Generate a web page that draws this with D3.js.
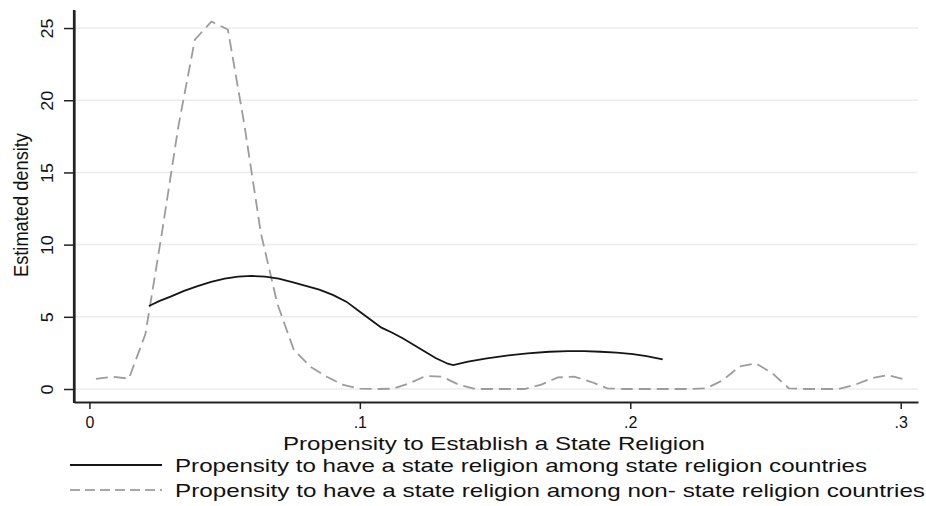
<!DOCTYPE html>
<html>
<head>
<meta charset="utf-8">
<script src="https://cdn.jsdelivr.net/npm/d3@7"></script>
<style>
  html, body { margin: 0; padding: 0; background: #fff; }
  svg { display: block; }
  text { font-family: "Liberation Sans", Arial, sans-serif; fill: #111; }
</style>
</head>
<body>
<svg id="chart" width="926" height="506"></svg>
<script>
// ---- data ----
const stateX = [0.022, 0.026, 0.030, 0.035, 0.040, 0.045, 0.050, 0.055, 0.060, 0.065, 0.070, 0.075, 0.080, 0.085, 0.090, 0.095, 0.100, 0.104, 0.108, 0.112, 0.116, 0.120, 0.124, 0.128, 0.1325, 0.1345, 0.140, 0.147, 0.155, 0.162, 0.170, 0.177, 0.183, 0.189, 0.195, 0.201, 0.206, 0.212];
const stateY = [5.75, 6.1, 6.4, 6.8, 7.13, 7.42, 7.64, 7.78, 7.83, 7.78, 7.65, 7.4, 7.15, 6.88, 6.52, 6.05, 5.35, 4.8, 4.25, 3.9, 3.5, 3.05, 2.6, 2.15, 1.75, 1.66, 1.9, 2.12, 2.33, 2.47, 2.58, 2.63, 2.62, 2.58, 2.52, 2.42, 2.27, 2.05];

const nonStateX = [0.0024, 0.0085, 0.0146, 0.0207, 0.0268, 0.0329, 0.0390, 0.0451, 0.0512, 0.0573, 0.0634, 0.0695, 0.0756, 0.0817, 0.0878, 0.0939, 0.1000, 0.1061, 0.1122, 0.1183, 0.1244, 0.1305, 0.1366, 0.1427, 0.1488, 0.1549, 0.1610, 0.1671, 0.1732, 0.1793, 0.1854, 0.1915, 0.1976, 0.2037, 0.2098, 0.2159, 0.2220, 0.2281, 0.2342, 0.2403, 0.2464, 0.2525, 0.2586, 0.2647, 0.2708, 0.2769, 0.2830, 0.2891, 0.2952, 0.3013];
const nonStateY = [0.7, 0.85, 0.72, 3.8, 10.8, 18.2, 24.2, 25.45, 24.9, 18.3, 10.8, 5.9, 2.7, 1.55, 0.85, 0.28, 0.02, 0.0, 0.02, 0.4, 0.9, 0.85, 0.3, 0.0, 0.0, 0.0, 0.0, 0.3, 0.8, 0.85, 0.5, 0.05, 0.0, 0.0, 0.0, 0.0, 0.0, 0.05, 0.6, 1.55, 1.78, 1.1, 0.05, 0.0, 0.0, 0.0, 0.28, 0.74, 0.97, 0.67];

const xTickValues = [0, 0.1, 0.2, 0.3];
const xTickLabels = ["0", ".1", ".2", ".3"];
const yTickValues = [0, 5, 10, 15, 20, 25];
const yTickLabels = ["0", "5", "10", "15", "20", "25"];

const xTitle = "Propensity to Establish a State Religion";
const yTitle = "Estimated density";
const legendLabels = [
  "Propensity to have a state religion among state religion countries",
  "Propensity to have a state religion among non- state religion countries"
];

// ---- layout ----
const svg = d3.select("#chart");
const plotLeft = 74, plotRight = 918, plotTop = 10, plotBottom = 402;

const x = d3.scaleLinear().domain([-0.0057, 0.3064]).range([plotLeft, plotRight]);
const y = d3.scaleLinear().domain([-0.9, 26.25]).range([plotBottom, plotTop]);

// gridlines
svg.append("g").selectAll("line").data(yTickValues).join("line")
  .attr("x1", plotLeft + 1).attr("x2", plotRight)
  .attr("y1", d => y(d)).attr("y2", d => y(d))
  .attr("stroke", "#ececec").attr("stroke-width", 1.5);

// curves
const line = d3.line().x(d => x(d[0])).y(d => y(d[1])).curve(d3.curveLinear);
const nonStateData = nonStateX.map((v, i) => [v, nonStateY[i]]);
const stateData = stateX.map((v, i) => [v, stateY[i]]);

svg.append("path").datum(nonStateData)
  .attr("d", line).attr("fill", "none")
  .attr("stroke", "#9c9c9c").attr("stroke-width", 1.8)
  .attr("stroke-dasharray", "12,6");

svg.append("path").datum(stateData)
  .attr("d", line).attr("fill", "none")
  .attr("stroke", "#151515").attr("stroke-width", 1.8);

// axes
const xAxis = d3.axisBottom(x).tickValues(xTickValues).tickFormat((d, i) => xTickLabels[i]).tickSize(7).tickSizeOuter(0);
const gx = svg.append("g").attr("transform", `translate(0,${plotBottom})`).call(xAxis);
gx.select(".domain").attr("stroke", "#222").attr("stroke-width", 2.2);
gx.selectAll(".tick line").attr("stroke", "#222").attr("stroke-width", 1.5);
gx.selectAll(".tick text").attr("font-size", 16).attr("dy", null).attr("y", 26)
  .attr("font-family", "'Liberation Sans', Arial, sans-serif").attr("fill", "#111");

const yAxis = d3.axisLeft(y).tickValues(yTickValues).tickFormat((d, i) => yTickLabels[i]).tickSize(10).tickSizeOuter(0);
const gy = svg.append("g").attr("transform", `translate(${plotLeft},0)`).call(yAxis);
gy.select(".domain").attr("stroke", "#222").attr("stroke-width", 2.2);
gy.selectAll(".tick line").attr("stroke", "#222").attr("stroke-width", 1.5);
gy.selectAll(".tick text")
  .attr("x", null).attr("dy", null)
  .attr("transform", "translate(-21,0) rotate(-90)")
  .attr("text-anchor", "middle")
  .attr("font-size", 17)
  .attr("font-family", "'Liberation Sans Narrow', 'Liberation Sans', Arial, sans-serif")
  .attr("textLength", (d, i) => yTickLabels[i].length * 10)
  .attr("lengthAdjust", "spacingAndGlyphs")
  .attr("fill", "#111");

// extend the y-axis line to meet x-axis
svg.append("line").attr("x1", plotLeft).attr("x2", plotLeft).attr("y1", plotTop).attr("y2", plotBottom + 1)
  .attr("stroke", "#222").attr("stroke-width", 2.2);

// axis titles
svg.append("text").attr("x", 494).attr("y", 450)
  .attr("text-anchor", "middle").attr("font-size", 19)
  .attr("textLength", 422).attr("lengthAdjust", "spacingAndGlyphs")
  .text(xTitle);

svg.append("text")
  .attr("transform", "translate(28,205) rotate(-90)")
  .attr("text-anchor", "middle").attr("font-size", 20)
  .attr("font-family", "'Liberation Sans Narrow', 'Liberation Sans', Arial, sans-serif")
  .attr("textLength", 144).attr("lengthAdjust", "spacingAndGlyphs")
  .text(yTitle);

// legend
const legendStyles = [
  { stroke: "#151515", dash: null },
  { stroke: "#a8a8a8", dash: "10,5" }
];
const legendY = [465, 490];
const lg = svg.append("g");
legendLabels.forEach((lab, i) => {
  lg.append("line").attr("x1", 70).attr("x2", 162)
    .attr("y1", legendY[i]).attr("y2", legendY[i])
    .attr("stroke", legendStyles[i].stroke).attr("stroke-width", 1.8)
    .attr("stroke-dasharray", legendStyles[i].dash);
  lg.append("text").attr("x", 175).attr("y", legendY[i] + 7)
    .attr("font-size", 19)
    .attr("textLength", i === 0 ? 692 : 750).attr("lengthAdjust", "spacingAndGlyphs")
    .text(lab);
});
</script>
</body>
</html>
